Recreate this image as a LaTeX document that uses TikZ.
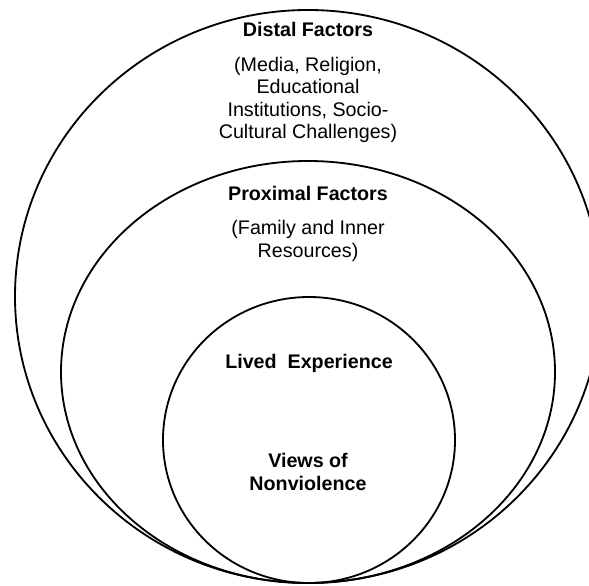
\documentclass[tikz,border=0pt]{standalone}
\usepackage{fontspec}
\setmainfont{Liberation Sans}

\begin{document}
\begin{tikzpicture}[x = 0.025cm, y = -0.025cm, line width = 1.3pt,
	blurb/.style = {align = center, font = \fontsize{14}{16}\selectfont},
	heading/.style = {align = center, font = \fontsize{14}{16}\selectfont\bfseries}]

	% Frame (the outer ring runs off the right side)
	
	\useasboundingbox (0, 0) rectangle (589, 585);
	\clip (0, 0) rectangle (589, 585);

	% Rings, all touching at the bottom
	
	\draw (308, 296.5) ellipse [x radius = 293, y radius = 286.5];
	\draw (308, 372) ellipse [x radius = 247, y radius = 211];
	\draw (309, 440) ellipse [x radius = 146, y radius = 143];
	
	% Outer ring labels
	
	\node [heading] (distal) at (308, 29) {Distal Factors};
	\node [blurb] (distal list) at (308, 100) {(Media, Religion,\\ Educational\\ Institutions, Socio-\\ Cultural Challenges)};
	
	% Middle ring labels
	
	\node [heading] (proximal) at (308, 193) {Proximal Factors};
	\node [blurb] (proximal list) at (308, 241) {(Family and Inner\\ Resources)};
	
	% Inner ring labels
	
	\node [heading] (lived) at (309, 363) {Lived\ \ Experience};
	\node [heading] (views) at (308, 472) {Views of\\ Nonviolence};
	
\end{tikzpicture}
\end{document}
